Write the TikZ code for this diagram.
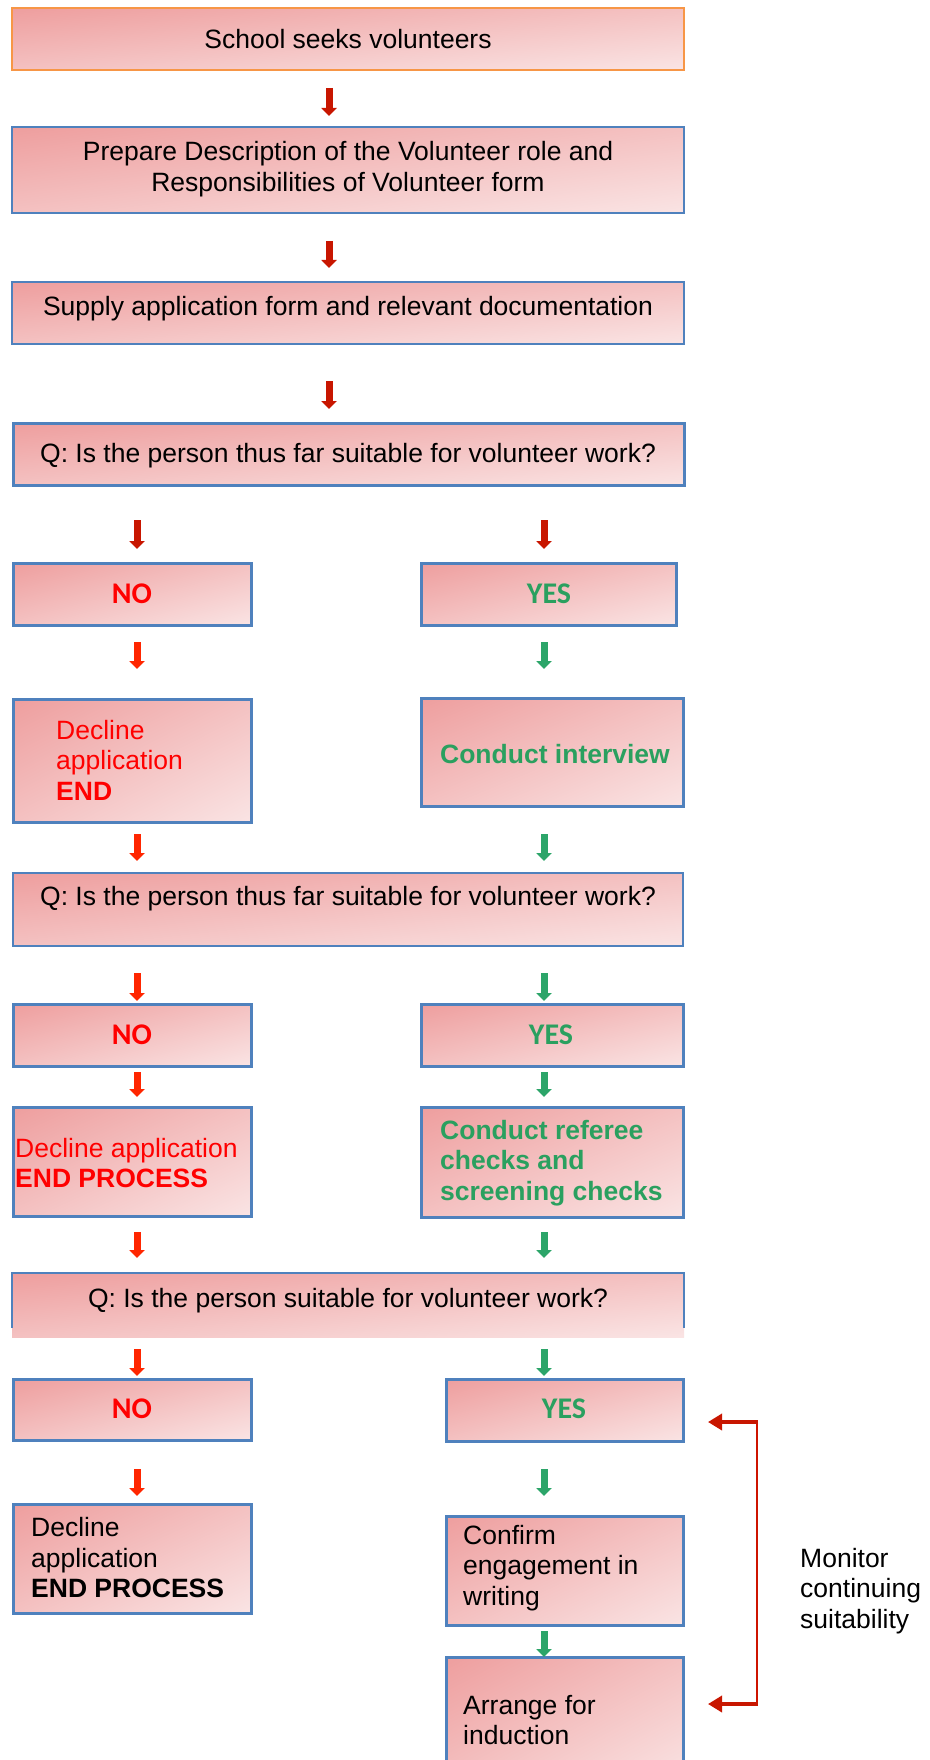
\documentclass[tikz,border=0pt]{standalone}
\usepackage{fontspec}
\setmainfont{Liberation Sans}
\newfontfamily\calfont{Carlito}
\usetikzlibrary{arrows.meta}
\definecolor{bordblue}{RGB}{79,129,189}
\definecolor{bordorange}{RGB}{247,150,70}
\definecolor{dred}{RGB}{200,22,0}
\definecolor{bred}{RGB}{255,38,0}
\definecolor{grn}{RGB}{44,165,105}
\definecolor{txtred}{RGB}{255,0,0}
\definecolor{txtgrn}{RGB}{42,160,95}
\pgfdeclarefunctionalshading{pinkdiag}{\pgfpoint{0bp}{0bp}}{\pgfpoint{100bp}{100bp}}{}{
  sub 50 add 100 div dup 0.274 mul 0.620 add dup 3 -1 roll 0.047 mul 0.933 add 3 1 roll
}
\newcommand\pbx[6]{\node[pbox,#6,minimum width={#4pt-#2pt},minimum height={#5pt-#3pt}] (#1) at ({(#2+#4)/2},{(#3+#5)/2}) {};}
\newcommand\flowarrow[5]{\coordinate (#1a) at (#3,#4); \coordinate (#1b) at (#3,#5); \draw[farr,#2] (#1a) -- (#1b);}
\begin{document}
\begin{tikzpicture}[x=1pt,y=-1pt,
  every node/.style={font=\fontsize{26.5}{30.5}\selectfont,inner sep=0pt},
  pbox/.style={shade,shading=pinkdiag},
  bthin/.style={draw=bordblue,line width=1.5pt},
  bmid/.style={draw=bordblue,line width=2.5pt},
  bthick/.style={draw=bordblue,line width=3pt},
  borange/.style={draw=bordorange,line width=1.5pt},
  farr/.style={line width=7pt,-{Triangle[width=15pt,length=8pt]}},
  harr/.style={draw=dred,line width=4pt,-{Triangle[width=16pt,length=14pt]}},
  yn/.style={font=\calfont\bfseries\fontsize{30}{34}\selectfont},
  ml/.style={align=left,anchor=west}
]
\useasboundingbox (0,0) rectangle (929,1760);
\clip (0,0) rectangle (929,1760);

% boxes
\pbx{b1}{12}{8}{684}{70}{borange}
\pbx{b2}{12}{127}{684}{213}{bthin}
\pbx{b3}{12}{282}{684}{344}{bthin}
\pbx{q1}{13}{423}{684}{485}{bthick}
\pbx{no1}{13}{563}{251}{625}{bthick}
\pbx{yes1}{421}{563}{676}{625}{bthick}
\pbx{dec1}{13}{699}{251}{822}{bthick}
\pbx{int}{421}{698}{683}{806}{bthick}
\pbx{q2}{13}{873}{683}{946}{bmid}
\pbx{no2}{13}{1004}{251}{1066}{bthick}
\pbx{yes2}{421}{1004}{683}{1066}{bthick}
\pbx{dec2}{13}{1107}{251}{1216}{bthick}
\pbx{ref}{421}{1107}{683}{1217}{bthick}
\pbx{q3}{12}{1273}{684}{1337}{}
\draw[bthin] ([yshift=9pt]q3.south west) |- (q3.north east) -- ([yshift=9pt]q3.south east);
\pbx{no3}{13}{1379}{251}{1440}{bthick}
\pbx{yes3}{446}{1379}{683}{1441}{bthick}
\pbx{dec3}{13}{1504}{251}{1613}{bthick}
\pbx{conf}{446}{1516}{683}{1625}{bthick}
\pbx{arr}{446}{1657}{683}{1785}{bthick}

% texts
\node (t1) at (348,39) {School seeks volunteers};
\node[align=center] (t2) at (348,169) {Prepare Description of the Volunteer role and\\Responsibilities of Volunteer form};
\node (t3) at (348,309) {Supply application form and relevant documentation};
\node (tq1) at (348,456) {Q: Is the person thus far suitable for volunteer work?};
\node[yn,text=txtred] (tno1) at (132,594) {NO};
\node[yn,text=txtgrn] (tyes1) at (549,594) {YES};
\node[ml,text=txtred] (tdec1) at (56,760) {Decline\\application\\\textbf{END}};
\node[text=txtgrn,font=\bfseries\fontsize{26.5}{30.5}\selectfont] (tint) at (555,754) {Conduct interview};
\node (tq2) at (348,899) {Q: Is the person thus far suitable for volunteer work?};
\node[yn,text=txtred] (tno2) at (132,1035) {NO};
\node[yn,text=txtgrn] (tyes2) at (551,1035) {YES};
\node[ml,text=txtred] (tdec2) at (15,1163) {Decline application\\\textbf{END PROCESS}};
\node[ml,text=txtgrn,font=\bfseries\fontsize{26.5}{30.5}\selectfont] (tref) at (440,1163) {Conduct referee\\checks and\\screening checks};
\node (tq3) at (348,1301) {Q: Is the person suitable for volunteer work?};
\node[yn,text=txtred] (tno3) at (132,1409) {NO};
\node[yn,text=txtgrn] (tyes3) at (564,1409) {YES};
\node[ml] (tdec3) at (31,1558) {Decline\\application\\\textbf{END PROCESS}};
\node[ml] (tconf) at (463,1568) {Confirm\\engagement in\\writing};
\node[ml] (tarr) at (463,1720) {Arrange for\\induction};
\node[ml] (tmon) at (800,1591) {Monitor\\continuing\\suitability};

% down arrows
\flowarrow{a1}{dred}{329}{88}{116}
\flowarrow{a2}{dred}{329}{241}{268}
\flowarrow{a3}{dred}{329}{381}{409}
\flowarrow{a4}{dred}{137}{520}{549}
\flowarrow{a5}{dred}{544}{520}{549}
\flowarrow{a6}{bred}{137}{642}{669}
\flowarrow{a7}{grn}{544}{642}{669}
\flowarrow{a8}{bred}{137}{834}{861}
\flowarrow{a9}{grn}{544}{834}{861}
\flowarrow{a10}{bred}{137}{973}{1001}
\flowarrow{a11}{grn}{544}{973}{1001}
\flowarrow{a12}{bred}{137}{1072}{1097}
\flowarrow{a13}{grn}{544}{1072}{1097}
\flowarrow{a14}{bred}{137}{1232}{1258}
\flowarrow{a15}{grn}{544}{1232}{1258}
\flowarrow{a16}{bred}{137}{1349}{1376}
\flowarrow{a17}{grn}{544}{1349}{1376}
\flowarrow{a18}{bred}{137}{1469}{1496}
\flowarrow{a19}{grn}{544}{1469}{1496}
\flowarrow{a20}{grn}{544}{1631}{1657}

% monitor bracket
\coordinate (m1) at (757,1422);
\coordinate (m2) at (757,1704);
\coordinate (m1t) at (708,1422);
\coordinate (m2t) at (708,1704);
\draw[dred!90!red,line width=2pt] (m1) -- (m2);
\draw[harr] ([xshift=1pt]m1) -- (m1t);
\draw[harr] ([xshift=1pt]m2) -- (m2t);
\end{tikzpicture}
\end{document}
